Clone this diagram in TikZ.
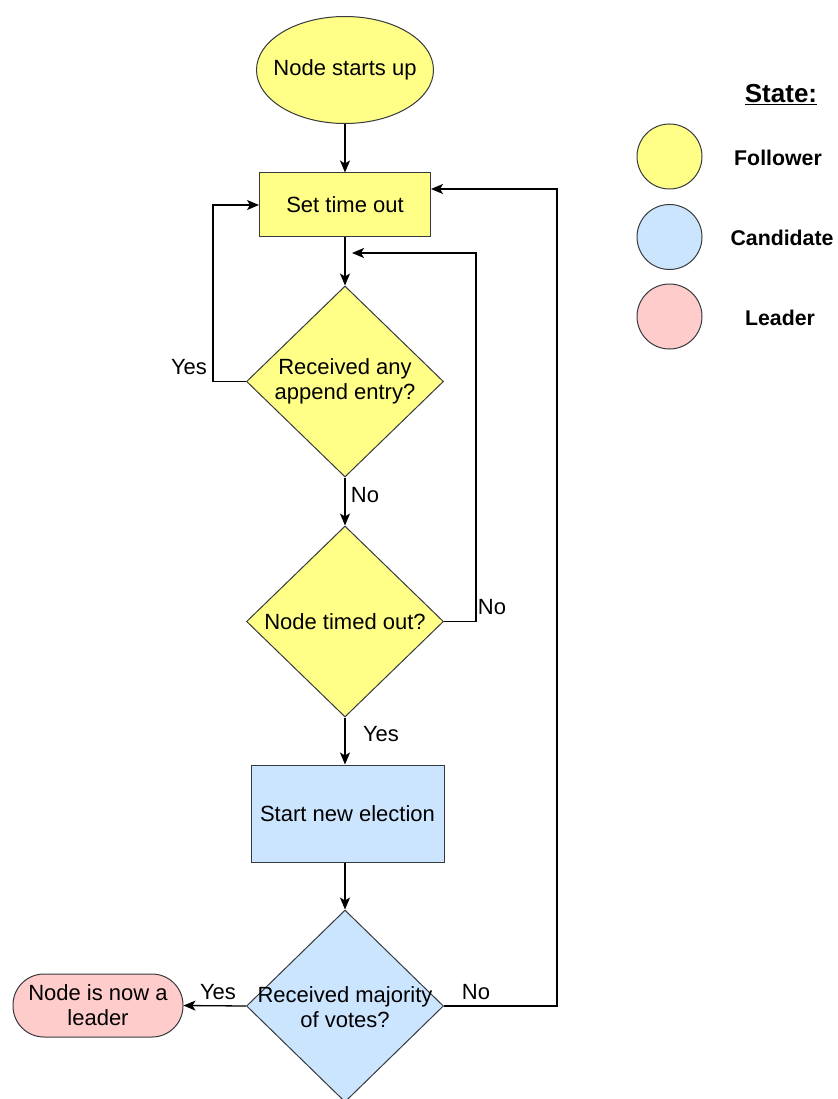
\documentclass[tikz,border=0pt]{standalone}
\usepackage{fontspec}
\setmainfont{Liberation Sans}
\usetikzlibrary{shapes.geometric,arrows.meta}

\definecolor{follow}{HTML}{FFFF88}
\definecolor{cand}{HTML}{CCE5FF}
\definecolor{lead}{HTML}{FFCCCC}
\definecolor{edgegray}{HTML}{36393D}

\tikzset{
  base/.style={draw=edgegray, line width=1pt, inner sep=0pt},
  startshape/.style={base, ellipse, fill=follow, minimum width=177pt, minimum height=107pt},
  decision/.style={base, diamond, minimum width=197pt, minimum height=191pt},
  pill/.style={base, rectangle, rounded corners=31pt, fill=lead, minimum width=170pt, minimum height=63pt, align=center},
  txt/.style={align=center, inner sep=0pt},
  lbl/.style={inner sep=0pt},
  flow/.style={line width=1.3pt, -{Stealth[length=12pt, width=10pt, inset=3pt]}},
  legendcirc/.style={base, circle, minimum size=65pt},
  legendtxt/.style={font=\bfseries\fontsize{21.3}{25}\selectfont, inner sep=0pt},
}

\begin{document}
\begin{tikzpicture}[x=1pt, y=-1pt, font=\fontsize{22}{25}\selectfont]
  \fill[white] (0,0) rectangle (837,1099);
  \clip (0,0) rectangle (837,1099);

  % flow shapes
  \node[startshape] (start) at (345,70) {};
  \node[txt] (startt) at (start) {Node starts up};

  \node[base, rectangle, fill=follow, minimum width=171pt, minimum height=64pt] (settime) at (345,205) {Set time out};

  \node[decision, fill=follow] (d1) at (345,381.5) {};
  \node[txt] (d1t) at (d1) {Received any\\append entry?};

  \node[decision, fill=follow] (d2) at (345,621.5) {};
  \node[txt] (d2t) at (d2) {Node timed out?};

  \node[base, rectangle, fill=cand, minimum width=193pt, minimum height=97pt] (elect) at (347.5,813.5) {Start new election};

  \node[decision, fill=cand, minimum height=192pt] (d3) at (345,1006) {};
  \node[txt] (d3t) at (345,1007) {Received majority\\of votes?};

  \node[pill] (leader) at (98,1005.5) {Node is now a\\leader};

  % connectors
  \draw[flow] (start.south) -- (settime.north);
  \draw[flow] (settime.south) -- (d1.north);
  \draw[flow] (d1.west) -- (213,381.5) |- (settime.west);
  \draw[flow] (d1.south) -- (d2.north);
  \coordinate (loopin) at (352,253);
  \draw[flow] (d2.east) -- (476,621.5) |- (loopin);
  \draw[flow] (d2.south) -- (d2.south |- elect.north);
  \draw[flow] (d2.south |- elect.south) -- (d3.north);
  \draw[flow] (d3.west) -- (leader.east);
  \draw[flow] (d3.east) -- (557,1006) |- ([yshift=16pt]settime.east);

  % branch labels
  \node[lbl] (y1) at (189,367) {Yes};
  \node[lbl] (n1) at (365,495) {No};
  \node[lbl] (n2) at (492,607) {No};
  \node[lbl] (y2) at (381,734) {Yes};
  \node[lbl] (y3) at (218,992) {Yes};
  \node[lbl] (n3) at (476,992) {No};

  % legend
  \node[inner sep=0pt, font=\bfseries\fontsize{26}{30}\selectfont] (legtitle) at (781,95) {\underline{State:}};
  \node[legendcirc, fill=follow] (cf) at (669.5,156.5) {};
  \node[legendcirc, fill=cand] (cc) at (669.5,237) {};
  \node[legendcirc, fill=lead] (cl) at (669.5,316.5) {};
  \node[legendtxt] (lf) at (778,158) {Follower};
  \node[legendtxt] (lc) at (782,238) {Candidate};
  \node[legendtxt] (ll) at (780,318) {Leader};
\end{tikzpicture}
\end{document}
